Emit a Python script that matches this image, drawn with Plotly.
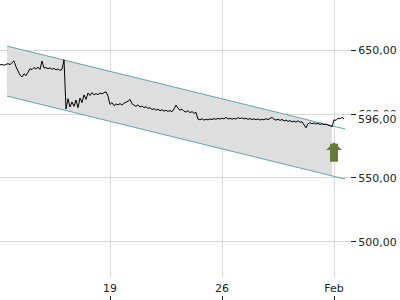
import pandas as pd
import plotly.graph_objects as go

# ---- data ----
start_time = "2021-01-12 03:00"
step = "3h"
prices = [
    638.5, 638.8, 638.2, 639.0, 639.5, 638.7, 640.5, 641.6, 637.0, 633.5,
    630.5, 629.0, 631.5, 630.0, 633.0, 635.5, 634.8, 636.5, 635.2, 636.8,
    634.9, 641.5, 636.0, 636.4, 635.5, 636.2, 635.0, 635.8, 634.6, 635.3,
    634.2, 635.0, 642.5, 604.0, 612.0, 605.5, 609.5, 606.0, 611.0, 605.0,
    612.5, 609.0, 615.0, 611.5, 616.5, 614.5, 616.8, 615.0, 616.0, 615.2,
    616.5, 615.8, 616.7, 617.5, 614.0, 607.5, 609.0, 606.5, 608.0, 607.2,
    608.2, 607.0, 608.5, 609.0, 610.0, 611.5, 608.0, 607.0, 606.0, 607.3,
    605.5, 606.3, 605.0, 605.8, 604.4, 605.0, 603.5, 604.2, 603.0, 603.8,
    602.6, 603.4, 602.2, 603.0, 602.0, 602.8, 601.8, 604.0, 607.0, 604.5,
    603.0, 603.8, 602.2, 601.5, 602.8, 601.0, 602.0, 600.5, 601.3, 596.0,
    595.5, 596.3, 595.2, 596.0, 595.4, 596.2, 595.6, 596.5, 595.8, 596.7,
    596.0, 596.8, 596.2, 597.5, 596.0, 596.8, 595.9, 596.6, 596.0, 597.2,
    596.4, 597.0, 596.2, 596.8, 595.8, 596.5, 595.7, 596.3, 595.5, 596.2,
    595.3, 596.0, 595.4, 596.4, 595.6, 596.6, 597.3, 596.0, 595.2, 596.0,
    595.0, 595.8, 594.6, 595.3, 594.2, 594.9, 593.8, 594.5, 593.6, 594.8,
    593.5, 594.0, 591.0, 589.2, 592.5, 593.2, 592.4, 593.0, 592.2, 592.8,
    591.8, 592.5, 591.6, 592.2, 591.3, 591.0, 590.0, 595.5, 595.0, 596.8,
    596.2, 597.5, 596.0,
]
channel_x = ["2021-01-12 13:30", "2021-02-02 16:30"]
channel_upper = [653.2, 588.3]
channel_lower = [614.1, 549.1]
fill_end = "2021-02-01 21:00"
signal_time = "2021-02-02 00:00"
signal_tip = 578.0
signal_tail = 561.5
last_price = 596.0
x_range = ["2021-01-12 03:00", "2021-02-03 00:00"]
y_range = [472.4, 689.3]
y_ticks = [500, 550, 600, 650]
x_tickvals = ["2021-01-19", "2021-01-26", "2021-02-02"]
x_ticktext = ["19", "26", "Feb"]

times = pd.date_range(start_time, periods=len(prices), freq=step)

# fill polygon of channel up to fill_end (linear interpolation of channel lines)
t0 = pd.Timestamp(channel_x[0]); t1 = pd.Timestamp(channel_x[1]); tf = pd.Timestamp(fill_end)
frac = (tf - t0) / (t1 - t0)
up_f = channel_upper[0] + frac * (channel_upper[1] - channel_upper[0])
lo_f = channel_lower[0] + frac * (channel_lower[1] - channel_lower[0])

font = dict(family="DejaVu Sans", size=11, color="#222222")
teal = "#5ea7ae"

fig = go.Figure()
fig.add_trace(go.Scatter(
    x=[t0, tf, tf, t0, t0],
    y=[channel_upper[0], up_f, lo_f, channel_lower[0], channel_upper[0]],
    fill="toself", fillcolor="#dedede", line=dict(width=0), mode="lines",
    hoverinfo="skip"))
fig.add_trace(go.Scatter(x=channel_x, y=channel_upper, mode="lines",
                         line=dict(color=teal, width=1)))
fig.add_trace(go.Scatter(x=channel_x, y=channel_lower, mode="lines",
                         line=dict(color=teal, width=1)))
fig.add_trace(go.Scatter(x=times, y=prices, mode="lines",
                         line=dict(color="#000000", width=1)))

fig.add_annotation(x=signal_time, y=signal_tip, ax=signal_time, ay=signal_tail,
                   xref="x", yref="y", axref="x", ayref="y", text="",
                   showarrow=True, arrowhead=1, arrowsize=0.33, arrowwidth=8,
                   arrowcolor="#687b36")
fig.add_annotation(x=1, y=last_price, xref="paper", yref="y",
                   xanchor="left", yanchor="middle", xshift=6,
                   text=f"{last_price:.2f}".replace(".", ","), showarrow=False,
                   bgcolor="#ffffff", font=font, borderpad=1)

fig.update_layout(
    width=400, height=300, showlegend=False,
    margin=dict(l=0, r=50, t=0, b=0),
    paper_bgcolor="#ffffff", plot_bgcolor="#ffffff",
    separators=",.", font=font,
    xaxis=dict(range=x_range, tickvals=x_tickvals, ticktext=x_ticktext,
               showgrid=True, gridcolor="#d9d9d9", gridwidth=1,
               zeroline=False, showline=False, ticks="", tickfont=font,
               ticklabelstandoff=3),
    xaxis2=dict(range=x_range, overlaying="x", anchor="free", position=0,
                side="bottom", tickvals=x_tickvals, showticklabels=False,
                ticks="inside", ticklen=4, tickcolor="#222222",
                showgrid=False, zeroline=False, showline=False),
    yaxis=dict(range=y_range, side="right", tickvals=y_ticks, domain=[23 / 300, 1],
               tickformat=".2f", showgrid=True, gridcolor="#d9d9d9",
               ticks="outside", ticklen=5, tickcolor="#222222",
               zeroline=False, showline=False, tickfont=font),
)
fig.add_trace(go.Scatter(x=[times[0]], y=[prices[0]], xaxis="x2", mode="markers",
                         marker=dict(opacity=0), hoverinfo="skip"))
fig.write_html("out.html")
